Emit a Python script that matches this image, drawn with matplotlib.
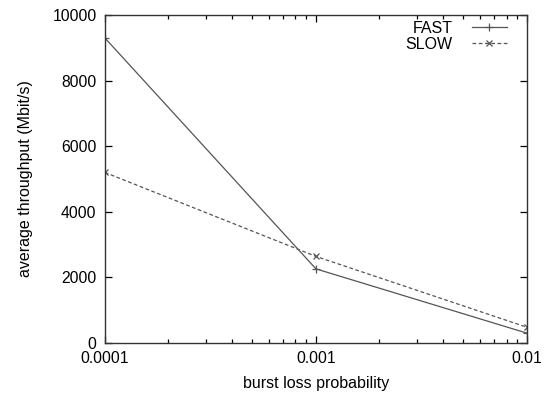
import matplotlib
matplotlib.use("Agg")
import matplotlib.pyplot as plt
from matplotlib.ticker import FixedLocator, FixedFormatter, LogLocator, NullFormatter

plt.rcParams['font.family'] = ['Liberation Sans', 'DejaVu Sans']

x = [0.0001, 0.001, 0.01]
fast = [9300, 2260, 300]
slow = [5200, 2640, 480]
xticks = [0.0001, 0.001, 0.01]
xticklabels = ["0.0001", "0.001", "0.01"]
yticks = [0, 2000, 4000, 6000, 8000, 10000]

fig = plt.figure(figsize=(5.49, 3.94), dpi=100)
ax = fig.add_axes([0.191, 0.1294, 0.769, 0.8326])
col = '#555555'
ax.plot(x, fast, color=col, lw=0.9, marker='+', ms=6, mew=0.9, label='FAST')
ax.plot(x, slow, color=col, lw=0.9, ls=(0, (3, 2)), marker='x', ms=4.5, mew=0.9, label='SLOW')
ax.set_xscale('log')
ax.set_xlim(0.0001, 0.01)
ax.set_ylim(0, 10000)
ax.xaxis.set_major_locator(FixedLocator(xticks))
ax.xaxis.set_major_formatter(FixedFormatter(xticklabels))
ax.xaxis.set_minor_locator(LogLocator(base=10, subs=range(2, 10)))
ax.xaxis.set_minor_formatter(NullFormatter())
ax.set_yticks(yticks)
ax.tick_params(which='both', direction='in', top=True, right=True, labelsize=11.3, colors='black')
ax.tick_params(which='major', length=5, width=0.9, pad=6)
ax.tick_params(which='minor', length=3, width=0.9)
for s in ax.spines.values():
    s.set_color('#333333')
    s.set_linewidth(1.0)
ax.set_xlabel('burst loss probability', fontsize=11.5, labelpad=7)
ax.set_ylabel('average throughput (Mbit/s)', fontsize=11.5, labelpad=14)
ax.legend(loc='upper right', bbox_to_anchor=(1 - 20 / 422, 1 - 6 / 328), frameon=False,
          markerfirst=False, fontsize=11.5, handlelength=2.2, borderaxespad=0, borderpad=0,
          labelspacing=0.05, handletextpad=1.2)
fig.savefig('out.png', dpi=100)
